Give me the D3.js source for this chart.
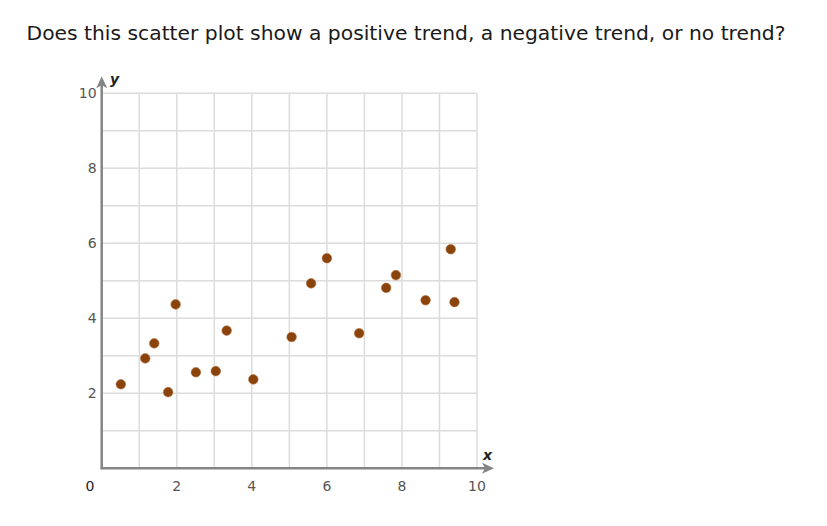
<!DOCTYPE html>
<html><head><meta charset="utf-8">
<script src="https://cdn.jsdelivr.net/npm/d3@7"></script>
<style>body{margin:0;background:#fff;}svg{display:block;font-family:Verdana,"DejaVu Sans",sans-serif;}</style>
</head><body>
<svg id="c" width="827" height="526"></svg>
<script>
const title = "Does this scatter plot show a positive trend, a negative trend, or no trend?";
const xs = [0.51,1.16,1.40,1.77,1.97,2.51,3.04,3.33,4.04,5.06,5.58,6.00,6.86,7.58,7.84,8.63,9.30,9.40];
const ys = [2.24,2.93,3.33,2.03,4.37,2.56,2.59,3.67,2.37,3.50,4.93,5.60,3.60,4.81,5.15,4.48,5.84,4.43];
const gridValues = [1,2,3,4,5,6,7,8,9,10];
const tickValues = [2,4,6,8,10];

const svg = d3.select("#c");
const x = d3.scaleLinear().domain([0,10]).range([101.7,477]);
const y = d3.scaleLinear().domain([0,10]).range([468.3,93.2]);

svg.append("text").attr("x",406).attr("y",40).attr("text-anchor","middle")
  .attr("font-size",20.3).attr("fill","#1a1a1a").text(title);

const g = svg.append("g");
g.selectAll("line.vg").data(gridValues).join("line").attr("class","vg")
  .attr("x1",d=>x(d)).attr("x2",d=>x(d)).attr("y1",y(0)).attr("y2",y(10))
  .attr("stroke","#dcdcdc").attr("stroke-width",1.5);
g.selectAll("line.hg").data(gridValues).join("line").attr("class","hg")
  .attr("y1",d=>y(d)).attr("y2",d=>y(d)).attr("x1",x(0)).attr("x2",x(10))
  .attr("stroke","#dcdcdc").attr("stroke-width",1.5);

const axCol = "#858585";
g.append("line").attr("x1",x(0)).attr("x2",x(0)).attr("y1",y(0)+1).attr("y2",y(10)-12)
  .attr("stroke",axCol).attr("stroke-width",2.5);
g.append("path").attr("d",`M${x(0)},${y(10)-17} L${x(0)-5.5},${y(10)-5} L${x(0)},${y(10)-8} L${x(0)+5.5},${y(10)-5} Z`).attr("fill",axCol);
g.append("line").attr("x1",x(0)-1).attr("x2",x(10)+12).attr("y1",y(0)).attr("y2",y(0))
  .attr("stroke",axCol).attr("stroke-width",2.5);
g.append("path").attr("d",`M${x(10)+17},${y(0)} L${x(10)+5},${y(0)-5.5} L${x(10)+8},${y(0)} L${x(10)+5},${y(0)+5.5} Z`).attr("fill",axCol);

g.selectAll("text.xt").data(tickValues).join("text").attr("class","xt")
  .attr("x",d=>x(d)).attr("y",y(0)+23).attr("text-anchor","middle")
  .attr("font-size",14).attr("fill","#555").text(d=>d);
g.selectAll("text.yt").data(tickValues).join("text").attr("class","yt")
  .attr("x",x(0)-5).attr("y",d=>y(d)+5).attr("text-anchor","end")
  .attr("font-size",14).attr("fill","#555").text(d=>d);
g.append("text").attr("x",90).attr("y",y(0)+23).attr("text-anchor","middle")
  .attr("font-size",14).attr("fill","#222").text("0");
g.append("text").attr("x",110).attr("y",84).attr("font-size",14).attr("font-weight","bold")
  .attr("font-style","italic").attr("fill","#222").text("y");
g.append("text").attr("x",483).attr("y",460).attr("font-size",14).attr("font-weight","bold")
  .attr("font-style","italic").attr("fill","#222").text("x");

g.selectAll("circle").data(xs.map((v,i)=>[v,ys[i]])).join("circle")
  .attr("cx",d=>x(d[0])).attr("cy",d=>y(d[1])).attr("r",4.8)
  .attr("fill","#8a430b").attr("stroke","#b07040").attr("stroke-width",0.6);
</script>
</body></html>
